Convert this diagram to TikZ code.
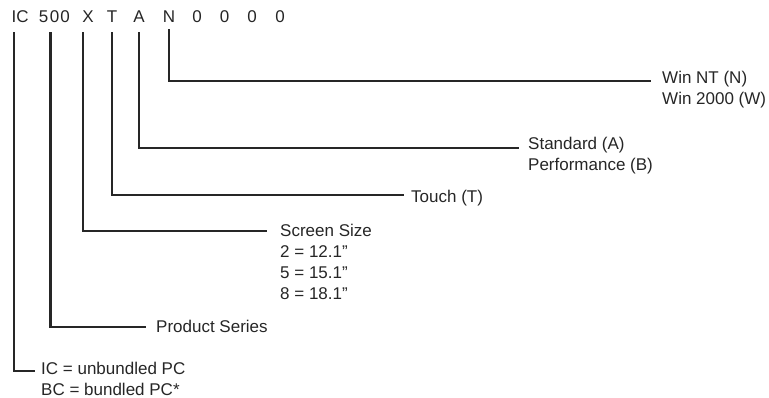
\documentclass[tikz,border=0pt]{standalone}
\usepackage{fontspec}
\setmainfont{Liberation Sans}
\begin{document}
\begin{tikzpicture}[x=1pt,y=-1pt,
  code/.style={anchor=base,inner sep=0pt,font=\fontsize{17}{21}\selectfont,text=black!85},
  lbl/.style={anchor=base west,inner sep=0pt,font=\fontsize{17}{21}\selectfont,text=black!85},
  conn/.style={line width=2.3pt,black!85,line cap=butt,line join=miter}]
\useasboundingbox (0,0) rectangle (769,398);
% code characters
\node[code] (cI) at (14,23) {I};
\node[code] (cC) at (22.5,23) {C};
\node[code] (c5) at (43.5,23) {5};
\node[code] (c0a) at (54.5,23) {0};
\node[code] (c0b) at (65,23) {0};
\node[code] (cX) at (88,23) {X};
\node[code] (cT) at (112,23) {T};
\node[code] (cA) at (139,23) {A};
\node[code] (cN) at (169,23) {N};
\node[code] (z1) at (197,23) {0};
\node[code] (z2) at (224.5,23) {0};
\node[code] (z3) at (252,23) {0};
\node[code] (z4) at (280,23) {0};
% line ends
\coordinate (eN) at (651,81);
\coordinate (eA) at (519,147.7);
\coordinate (eT) at (404,195);
\coordinate (eX) at (267,231);
\coordinate (eP) at (146,327);
\coordinate (eI) at (35,371);
% labels
\node[lbl] (lN1) at (662,83.5) {Win NT (N)};
\node[lbl] (lN2) at (662,104.5) {Win 2000 (W)};
\node[lbl] (lA1) at (528,150) {Standard (A)};
\node[lbl] (lA2) at (528,171) {Performance (B)};
\node[lbl] (lT1) at (411,202.5) {Touch (T)};
\node[lbl] (lX1) at (280,237) {Screen Size};
\node[lbl] (lX2) at (280,258) {2 = 12.1”};
\node[lbl] (lX3) at (280,279) {5 = 15.1”};
\node[lbl] (lX4) at (280,300) {8 = 18.1”};
\node[lbl] (lP1) at (156,333) {Product Series};
\node[lbl] (lI1) at (41,374) {IC = unbundled PC};
\node[lbl] (lI2) at (41,395) {BC = bundled PC*};
% connectors
\draw[conn,shorten <=6pt] (cN.south) |- (eN);
\draw[conn,shorten <=9pt] (cA.south) |- (eA);
\draw[conn,shorten <=9pt] (cT.south) |- (eT);
\draw[conn,shorten <=9pt] ([xshift=-5pt]cX.south) |- (eX);
\draw[conn,shorten <=9pt] ([xshift=-4pt]c0a.south) |- (eP);
\draw[conn,shorten <=9pt] (cI.south) |- (eI);
\end{tikzpicture}
\end{document}
